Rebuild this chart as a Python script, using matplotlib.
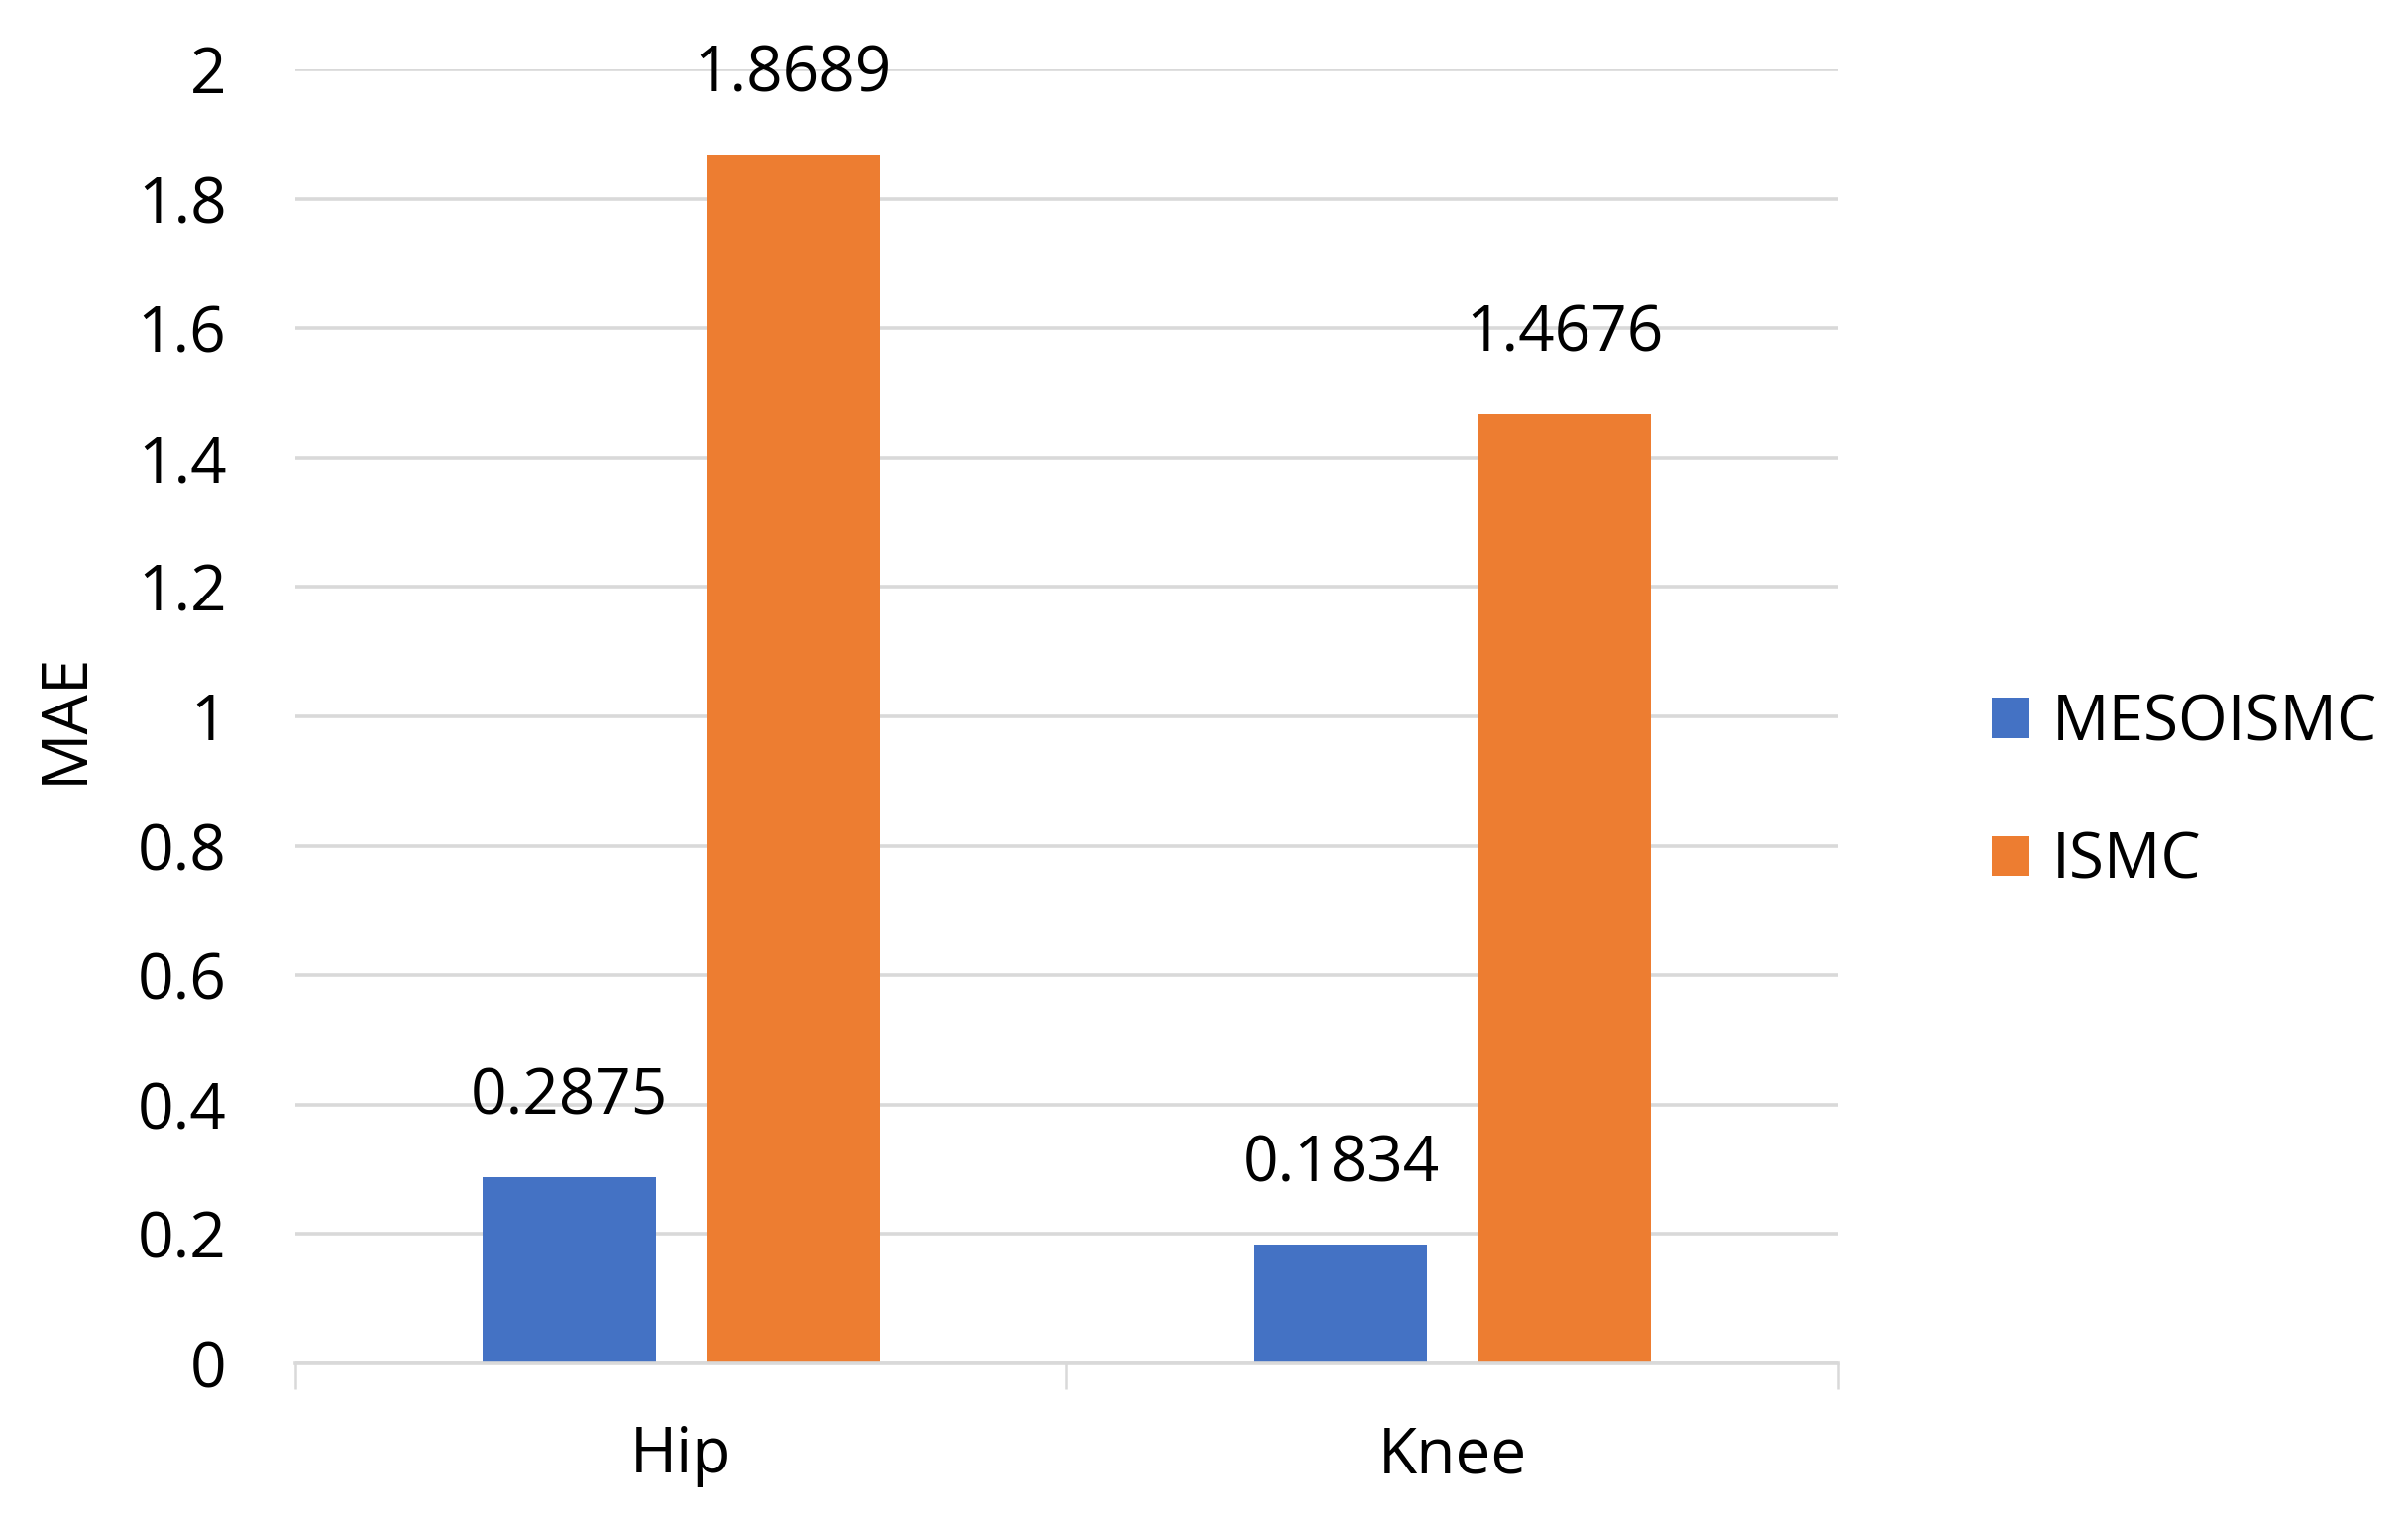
import matplotlib
matplotlib.use("Agg")
import matplotlib.pyplot as plt
import numpy as np

categories = ["Hip", "Knee"]
mesoismc = [0.2875, 0.1834]
ismc = [1.8689, 1.4676]
series_names = ["MESOISMC", "ISMC"]
yticks = [0, 0.2, 0.4, 0.6, 0.8, 1, 1.2, 1.4, 1.6, 1.8, 2]
ytick_labels = ["0", "0.2", "0.4", "0.6", "0.8", "1", "1.2", "1.4", "1.6", "1.8", "2"]

plt.rcParams['font.family'] = ['Open Sans', 'DejaVu Sans']
FS = 46
BLUE = "#4472C4"
ORANGE = "#ED7D31"
GRID = "#D9D9D9"

fig = plt.figure(figsize=(24.3, 15.35), dpi=100)
ax = fig.add_axes([0.1226, 0.1036, 0.7634 - 0.1226, 0.9544 - 0.1036])

x = np.arange(len(categories))
w = 0.225
off = 0.145
b1 = ax.bar(x - off, mesoismc, w, color=BLUE, label=series_names[0], zorder=3)
b2 = ax.bar(x + off, ismc, w, color=ORANGE, label=series_names[1], zorder=3)

for bars, vals in ((b1, mesoismc), (b2, ismc)):
    for r, v in zip(bars, vals):
        ax.annotate(f"{v:.4f}", (r.get_x() + r.get_width() / 2, v),
                    xytext=(0, 58), textcoords="offset points",
                    ha="center", va="center", fontsize=FS, color="#000000",
                    annotation_clip=False)

ax.set_xlim(-0.5, 1.5)
ax.set_ylim(0, 2)
ax.set_yticks(yticks)
ax.set_yticklabels(ytick_labels)
ax.yaxis.grid(True, color=GRID, linewidth=2.6, zorder=0)
ax.set_axisbelow(True)
for s in ["top", "right", "left"]:
    ax.spines[s].set_visible(False)
ax.spines["bottom"].set_color(GRID)
ax.spines["bottom"].set_linewidth(2.6)
ax.spines["bottom"].set_zorder(4)

ax.set_xticks(x)
ax.set_xticklabels(categories)
ax.set_xticks([-0.5, 0.5, 1.5], minor=True)
ax.tick_params(axis="x", which="major", length=0, pad=44, labelsize=FS)
ax.tick_params(axis="x", which="minor", length=19, width=1.8, color=GRID, direction="out")
ax.tick_params(axis="y", length=0, pad=50, labelsize=FS)
for lbl in ax.get_yticklabels():
    lbl.set_horizontalalignment("right")

fig.text(0.027, 0.528, "MAE", rotation=90, ha="center", va="center", fontsize=FS)

fig.legend(handles=[b1, b2], labels=series_names, loc="center left",
           bbox_to_anchor=(0.8165, 0.479), frameon=False, fontsize=FS,
           handlelength=0.6, handleheight=0.6, handletextpad=0.35,
           labelspacing=1.18, borderaxespad=0)

fig.savefig("out.png", dpi=100, facecolor="white")
